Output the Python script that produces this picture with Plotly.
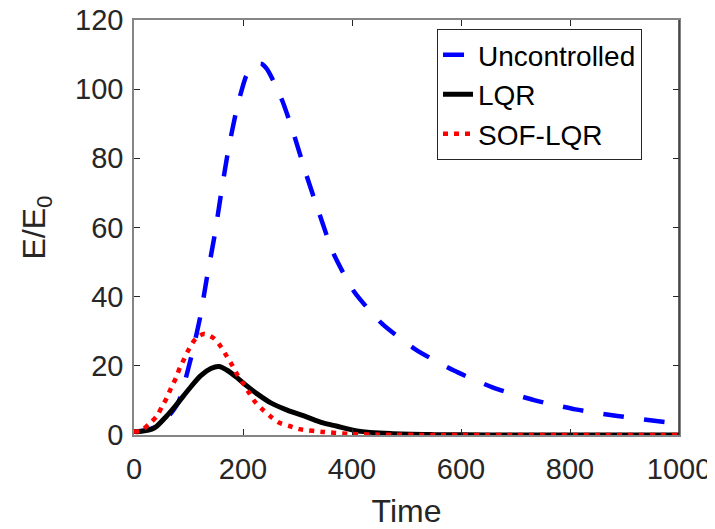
import plotly.graph_objects as go

# Uncontrolled
t_unc = [0, 20, 40, 60, 81.5, 103.5, 121, 134, 148, 160, 173, 189, 205, 215, 226, 234, 244, 257, 273,
         292, 315, 340, 366, 404, 455, 517, 586, 659, 734, 810, 887, 966, 1000]
v_unc = [1, 1.3, 2.4, 4.8, 9.5, 21.6, 33.8, 45.7, 57.8, 70, 82.4, 94.6, 103.5, 106.2, 107.3, 107.3, 105.8, 102, 96.3,
         87.6, 75.8, 64, 52.5, 41.4, 32.2, 24.7, 18.7, 13.7, 10.1, 7.4, 5.5, 3.9, 3.3]

# LQR
t_lqr = [0, 10, 37, 60, 79, 101, 122, 141, 156, 170, 189, 207, 226, 251, 281, 312, 347, 371, 409, 470, 550, 650, 800, 1000]
v_lqr = [1, 1, 2, 5.5, 9, 13.3, 17.1, 19.2, 19.8, 18.8, 16.6, 14.2, 11.9, 9.3, 7.2, 5.5, 3.5, 2.6, 1.2, 0.4, 0.1, 0.02, 0, 0]

# SOF-LQR
t_sof = [0, 12, 28, 42, 52, 60, 68, 77, 84, 92, 101, 113, 128, 147, 160, 170, 180, 189, 200, 211, 221, 235,
         251, 266, 285, 303, 347, 400, 450, 550, 700, 1000]
v_sof = [1, 1.2, 3.2, 5.5, 8.4, 10.7, 13.6, 16.5, 19.4, 22, 24.9, 27.8, 29.2, 27.9, 25.4, 22.8, 20.2, 17.6, 15, 12.2, 9.8, 7.5,
         5.3, 3.6, 2.6, 1.7, 0.9, 0.3, 0.1, 0.02, 0, 0]

x_ticks = [0, 200, 400, 600, 800, 1000]
y_ticks = [0, 20, 40, 60, 80, 100, 120]

TXT = "#262626"
AX = "#858585"
FONT = "Liberation Sans, Arial, Helvetica, sans-serif"

fig = go.Figure()
fig.add_trace(go.Scatter(x=t_unc, y=v_unc, mode="lines", name="Uncontrolled",
                         line=dict(color="#0000ff", width=4.5, dash="21px,20px", shape="spline", smoothing=0.6)))
fig.add_trace(go.Scatter(x=t_lqr, y=v_lqr, mode="lines", name="LQR",
                         line=dict(color="#000000", width=5, shape="spline", smoothing=0.8)))
fig.add_trace(go.Scatter(x=t_sof, y=v_sof, mode="lines", name="SOF-LQR",
                         line=dict(color="#ff0000", width=4.5, dash="5px,6px", shape="spline", smoothing=0.8)))

fig.update_layout(
    width=707, height=521,
    margin=dict(l=126, r=36, t=12, b=94),
    paper_bgcolor="white", plot_bgcolor="white",
    font=dict(family=FONT, color=TXT, size=29),
    showlegend=True,
    legend=dict(x=0.556, y=0.978, xanchor="left", yanchor="top",
                bgcolor="white", bordercolor="#262626", borderwidth=1,
                font=dict(size=28, color="#000000", family=FONT)),
    xaxis=dict(range=[0, 1000], tickvals=x_ticks, ticktext=[str(v) for v in x_ticks],
               automargin=False, ticklabelstandoff=7, ticklabeloverflow="allow",
               showgrid=False, zeroline=False, showline=True, linecolor=AX, linewidth=1.5,
               mirror="ticks", ticks="inside", ticklen=6, tickcolor=TXT, tickwidth=1,
               tickfont=dict(size=29, color=TXT),
               title=dict(text="Time", font=dict(size=32, color=TXT), standoff=27)),
    yaxis=dict(range=[0, 120], tickvals=y_ticks, ticktext=[str(v) for v in y_ticks],
               automargin=False, ticklabelstandoff=3, ticklabeloverflow="allow",
               showgrid=False, zeroline=False, showline=True, linecolor=AX, linewidth=1.5,
               mirror="ticks", ticks="inside", ticklen=6, tickcolor=TXT, tickwidth=1,
               tickfont=dict(size=29, color=TXT),
               title=dict(text="E/E<sub>0</sub>", font=dict(size=32, color=TXT), standoff=20)),
)
fig.add_shape(type="line", xref="paper", yref="paper", x0=1, x1=1, y0=0, y1=1,
              line=dict(color="#333333", width=1.5))

fig.write_html("out.html")
